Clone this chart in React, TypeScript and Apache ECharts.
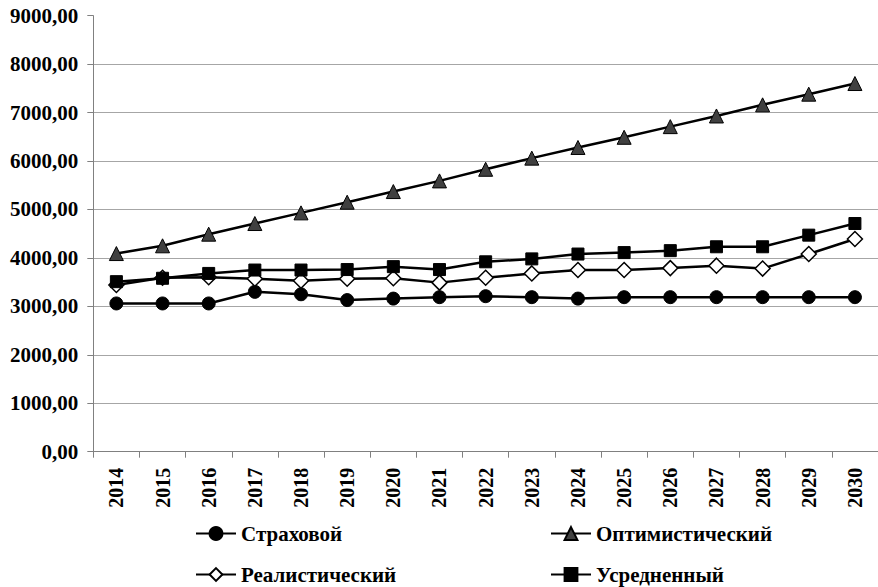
import React, { useEffect, useRef } from "react";
import * as echarts from "echarts";

const years = ["2014", "2015", "2016", "2017", "2018", "2019", "2020", "2021", "2022", "2023", "2024", "2025", "2026", "2027", "2028", "2029", "2030"];
const strakhovoy = [3060, 3060, 3060, 3300, 3250, 3130, 3160, 3190, 3210, 3190, 3160, 3190, 3190, 3190, 3190, 3190, 3190];
const optimistic = [4090, 4250, 4490, 4710, 4930, 5150, 5370, 5590, 5830, 6060, 6280, 6490, 6710, 6930, 7160, 7380, 7600];
const realistic = [3440, 3590, 3600, 3570, 3530, 3570, 3580, 3490, 3590, 3680, 3750, 3750, 3790, 3840, 3780, 4080, 4390];
const averaged = [3510, 3580, 3680, 3750, 3750, 3760, 3820, 3760, 3920, 3980, 4080, 4110, 4150, 4230, 4230, 4470, 4710];
const seriesNames = ["Страховой", "Оптимистический", "Реалистический", "Усредненный"];

const FONT = '"Times New Roman", "Liberation Serif", serif';

export default function App() {
  const ref = useRef<HTMLDivElement>(null);
  useEffect(() => {
    if (!ref.current) return;
    const chart = echarts.init(ref.current, undefined, { renderer: "svg" });
    const lineStyle = { color: "#000", width: 2.5 };
    const legendCommon = {
      orient: "horizontal",
      itemWidth: 40,
      itemHeight: 16,
      itemTextGap: 1,
      padding: 0,
      textStyle: { fontFamily: FONT, fontWeight: "bold", fontSize: 21, color: "#000", lineHeight: 16 },
    };
    // legend positions: [name index, left, top]
    const legendPos: [number, number, number][] = [
      [0, 195, 523],
      [1, 550, 523],
      [2, 195, 564],
      [3, 550, 564],
    ];
    chart.setOption({
      animation: false,
      backgroundColor: "#fff",
      grid: { left: 93.3, top: 15.7, right: -7, bottom: 135.3, containLabel: false },
      legend: legendPos.map(([i, left, top]) => ({ ...legendCommon, left, top, data: [seriesNames[i]] })),
      xAxis: {
        type: "category",
        data: years,
        boundaryGap: true,
        axisLine: { lineStyle: { color: "#808080", width: 1 } },
        axisTick: { show: true, length: 6, lineStyle: { color: "#808080" } },
        axisLabel: {
          interval: 0,
          rotate: 90,
          margin: 16,
          color: "#000",
          fontFamily: FONT,
          fontWeight: "bold",
          fontSize: 20,
        },
        splitLine: { show: false },
      },
      yAxis: {
        type: "value",
        min: 0,
        max: 9000,
        interval: 1000,
        axisLine: { show: true, lineStyle: { color: "#808080", width: 1 } },
        axisTick: { show: true, length: 6, lineStyle: { color: "#808080" } },
        axisLabel: {
          margin: 15,
          color: "#000",
          fontFamily: FONT,
          fontWeight: "bold",
          fontSize: 21,
          formatter: (v: number) => v.toFixed(2).replace(".", ","),
        },
        splitLine: { show: true, showMaxLine: false, lineStyle: { color: "#a6a6a6", width: 1 } },
      },
      series: [
        {
          name: seriesNames[0],
          type: "line",
          data: strakhovoy,
          symbol: "circle",
          symbolSize: 13,
          lineStyle,
          itemStyle: { color: "#000", borderColor: "#000", borderWidth: 1 },
        },
        {
          name: seriesNames[1],
          type: "line",
          data: optimistic,
          symbol: "triangle",
          symbolSize: 14,
          lineStyle,
          itemStyle: { color: "#404040", borderColor: "#000", borderWidth: 1 },
        },
        {
          name: seriesNames[2],
          type: "line",
          data: realistic,
          symbol: "diamond",
          symbolSize: 15,
          lineStyle,
          itemStyle: { color: "#fff", borderColor: "#000", borderWidth: 1.5 },
        },
        {
          name: seriesNames[3],
          type: "line",
          data: averaged,
          symbol: "rect",
          symbolSize: 12,
          lineStyle,
          itemStyle: { color: "#000", borderColor: "#000", borderWidth: 1 },
        },
      ],
    });
    return () => chart.dispose();
  }, []);
  return <div ref={ref} style={{ position: "fixed", left: 0, top: 0, width: 878, height: 587, background: "#fff" }} />;
}
